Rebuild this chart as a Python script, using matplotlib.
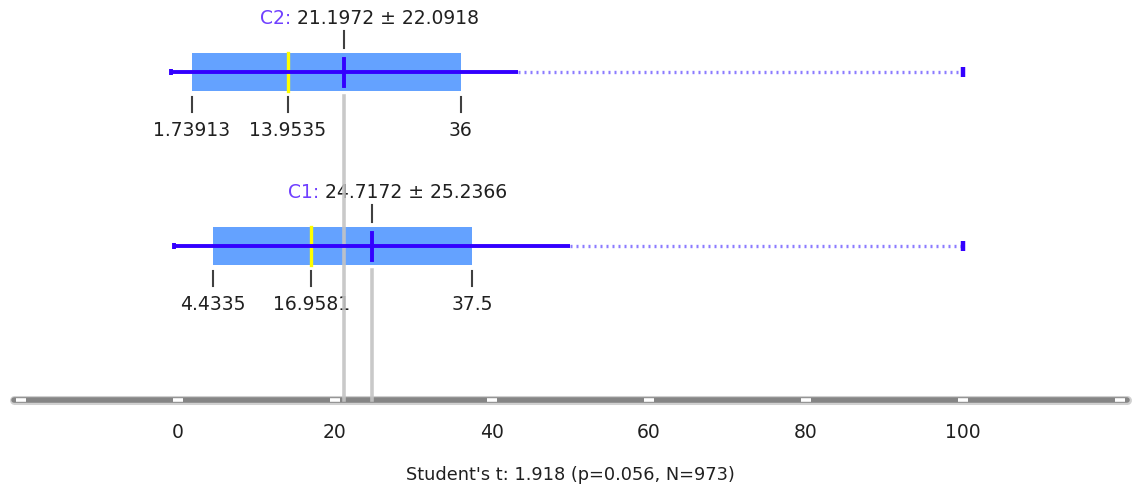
import matplotlib
matplotlib.use("Agg")
import matplotlib.pyplot as plt

# box plot statistics per group (top row first)
groups = ["C2", "C1"]
means = [21.1972, 24.7172]
sds = [22.0918, 25.2366]
q1 = [1.73913, 4.4335]
medians = [13.9535, 16.9581]
q3 = [36, 37.5]
maxima = [100, 100]
q1_labels = ["1.73913", "4.4335"]
med_labels = ["13.9535", "16.9581"]
q3_labels = ["36", "37.5"]
mean_labels = ["21.1972", "24.7172"]
sd_labels = ["22.0918", "25.2366"]
axis_ticks = [-20, 0, 20, 40, 60, 80, 100, 120]
tick_labels = [0, 20, 40, 60, 80, 100]
test_text = "Student's t: 1.918 (p=0.056, N=973)"

W, H = 1132, 489
fig = plt.figure(figsize=(W / 100, H / 100), dpi=100)
ax = fig.add_axes([0, 0, 1, 1])
ax.axis("off")
# 0 -> 178 px, 100 -> 963 px
scale = (963 - 178) / 100
ax.set_xlim(-178 / scale, (W - 178) / scale)
ax.set_ylim(H, 0)

plt.rcParams["font.family"] = ["DejaVu Sans"]
fs = 13.5
row_y = [73, 247]
half_h = 19
axis_y = 401

box_col = "#64a2ff"
line_col = "#3300ff"
dot_col = "#8c7cff"
tick_col = "#404040"

for i, g in enumerate(groups):
    y = row_y[i]
    m, s = means[i], sds[i]
    # box
    ax.fill_between([q1[i], q3[i]], y - half_h, y + half_h, color=box_col,
                    lw=0, zorder=2)
    # median
    ax.plot([medians[i], medians[i]], [y - half_h, y + half_h], color="#ffff00",
            lw=2.4, zorder=4)
    # dotted to max
    ax.plot([m + s, maxima[i]], [y, y], color=dot_col, lw=2.4,
            dashes=(0.6, 1.2), solid_capstyle="butt", zorder=3)
    ax.plot([maxima[i]], [y], marker="|", ms=7, mew=3.2, color=line_col, zorder=5)
    # mean +- sd
    ax.plot([m - s, m + s], [y, y], color=line_col, lw=2.8, zorder=5,
            solid_capstyle="butt")
    ax.plot([m - s], [y], marker="|", ms=5, mew=2.8, color=line_col, zorder=5)
    ax.plot([m, m], [y - 13, y + 14], color=line_col, lw=2.8, zorder=5)
    # mean reference line down to the axis
    ax.plot([m, m], [y + half_h + 5, axis_y], color="#c4c4c4", lw=2.6,
            zorder=3.5, alpha=0.9)
    # tick above mean and label
    ax.plot([m, m], [y - half_h - 22, y - half_h - 5], color=tick_col, lw=1.5,
            zorder=5)
    ax.annotate(f"{mean_labels[i]} \u00b1 {sd_labels[i]}", (m, y - half_h - 35),
                xytext=(-47, 0), textcoords="offset pixels", ha="left",
                va="center", fontsize=fs, color="#202020")
    ax.annotate(f"{g}: ", (m, y - half_h - 35), xytext=(-47, 0),
                textcoords="offset pixels", ha="right", va="center",
                fontsize=fs, color="#7040ff")
    # ticks and labels below the box
    for v, lab in [(q1[i], q1_labels[i]), (medians[i], med_labels[i]),
                   (q3[i], q3_labels[i])]:
        ax.plot([v, v], [y + half_h + 6, y + half_h + 21], color=tick_col,
                lw=1.5, zorder=5)
        ax.text(v, y + half_h + 38, lab, ha="center", va="center",
                fontsize=fs, color="#202020")

# bottom axis bar
ax.plot([-20.9, 120.9], [axis_y, axis_y], color="#d0d0d0", lw=6.5,
        solid_capstyle="round", zorder=2)
ax.plot([-20.9, 120.9], [axis_y, axis_y], color="#858585", lw=4,
        solid_capstyle="round", zorder=3)
ax.plot(axis_ticks, [axis_y] * len(axis_ticks), ls="none", marker="_", ms=7,
        mew=2.6, color="white", zorder=4)
for t in tick_labels:
    ax.text(t, 433, str(t), ha="center", va="center", fontsize=fs,
            color="#202020")

ax.text(50, 475, test_text, ha="center", va="center", fontsize=12.8,
        color="#202020")

fig.savefig("out.png", dpi=100)
